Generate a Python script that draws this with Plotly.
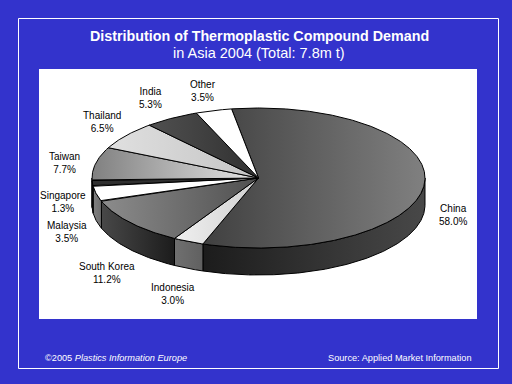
import math
import plotly.graph_objects as go

# ---- data (clockwise from the start of the China slice)
categories = ["China", "Indonesia", "South Korea", "Malaysia", "Singapore",
              "Taiwan", "Thailand", "India", "Other"]
shares = [58.0, 3.0, 11.2, 3.5, 1.3, 7.7, 6.5, 5.3, 3.5]
title_main = "Distribution of Thermoplastic Compound Demand"
title_sub = "in Asia 2004 (Total: 7.8m t)"
footer_left = "©2005 <i>Plastics Information Europe</i>"
footer_right = "Source: Applied Market Information"

# ---- styles / geometry
BLUE = "#3333cc"
CX, CY, RX, RY, DEPTH = 258.5, 178.0, 166.5, 70.0, 27.0
START = -9.3
top_colors = {
    "China": ("#404040", "#808080"), "Indonesia": ("#f0f0f0", "#d0d0d0"),
    "South Korea": ("#8c8c8c", "#505050"), "Malaysia": ("#ffffff", "#ffffff"),
    "Singapore": ("#303030", "#303030"), "Taiwan": ("#808080", "#e6e6e6"),
    "Thailand": ("#e0e0e0", "#c4c4c4"), "India": ("#505050", "#303030"),
    "Other": ("#ffffff", "#ffffff"),
}
side_colors = {
    "China": ("#1c1c1c", "#484848"), "Indonesia": ("#707070", "#606060"),
    "South Korea": ("#484848", "#1c1c1c"), "Malaysia": ("#808080", "#707070"),
    "Singapore": ("#303030", "#303030"), "Taiwan": ("#808080", "#808080"),
}
label_pos = {
    "China": (453, 215), "Indonesia": (173, 294), "South Korea": (107, 273),
    "Malaysia": (67, 232), "Singapore": (63, 202), "Taiwan": (64, 163),
    "Thailand": (102, 122), "India": (150, 98), "Other": (203, 91),
}


def pt(a, dy=0.0):
    r = math.radians(a)
    return CX + RX * math.sin(r), CY - RY * math.cos(r) + dy


fig = go.Figure()


def poly(xs, ys, cols):
    fig.add_trace(go.Scatter(
        x=xs, y=ys, mode="lines", fill="toself",
        line=dict(color="black", width=1),
        fillgradient=dict(type="horizontal",
                          colorscale=[[0, cols[0]], [1, cols[1]]]),
        hoverinfo="skip", showlegend=False))


# slice angle ranges derived from the shares
spans = {}
a = START
for c, s in zip(categories, shares):
    spans[c] = (a, a + s * 3.6)
    a += s * 3.6

# side walls
for c in categories:
    a0, a1 = spans[c]
    lo, hi = max(a0, 90), min(a1, 270)
    if hi <= lo:
        continue
    n = max(2, int(hi - lo) * 2)
    angs = [lo + (hi - lo) * i / n for i in range(n + 1)]
    top = [pt(t) for t in angs]
    bot = [pt(t, DEPTH) for t in reversed(angs)]
    pts = top + bot + [top[0]]
    poly([p[0] for p in pts], [p[1] for p in pts], side_colors[c])

# top faces
for c in categories:
    a0, a1 = spans[c]
    n = max(2, int(a1 - a0) * 2)
    pts = [(CX, CY)] + [pt(a0 + (a1 - a0) * i / n) for i in range(n + 1)] + [(CX, CY)]
    poly([p[0] for p in pts], [p[1] for p in pts], top_colors[c])

FONT = "Liberation Sans, Arial, sans-serif"
ann = []
for c, s in zip(categories, shares):
    x, y = label_pos[c]
    ann.append(dict(x=x, y=y, text=f"{c}<br>{s:.1f}%", showarrow=False,
                    xref="x", yref="y", align="center",
                    font=dict(family=FONT, size=10, color="black")))
ann += [
    dict(x=259, y=36, text=f"<b>{title_main}</b>", showarrow=False, xref="x", yref="y",
         font=dict(family=FONT, size=14.3, color="white")),
    dict(x=259, y=53, text=title_sub, showarrow=False, xref="x", yref="y",
         font=dict(family=FONT, size=14.5, color="white")),
    dict(x=42.5, y=358, text=footer_left, showarrow=False, xref="x", yref="y", xanchor="left",
         font=dict(family=FONT, size=9.2, color="white")),
    dict(x=474, y=358, text=footer_right, showarrow=False, xref="x", yref="y", xanchor="right",
         font=dict(family=FONT, size=9.2, color="white")),
]

shapes = [
    dict(type="rect", x0=18.5, y0=18.5, x1=498.5, y1=368.5, xref="x", yref="y",
         line=dict(color="white", width=1), fillcolor="rgba(0,0,0,0)", layer="below"),
    dict(type="rect", x0=39, y0=69, x1=477, y1=319, xref="x", yref="y",
         line=dict(width=0), fillcolor="white", layer="below"),
]

fig.update_layout(
    width=512, height=384, margin=dict(l=0, r=0, t=0, b=0),
    paper_bgcolor=BLUE, plot_bgcolor=BLUE, showlegend=False,
    xaxis=dict(range=[0, 512], visible=False, fixedrange=True),
    yaxis=dict(range=[384, 0], visible=False, fixedrange=True),
    annotations=ann, shapes=shapes,
)
fig.write_html("out.html", config={"displayModeBar": False},
               post_script="document.body.style.margin='0';document.body.style.overflow='hidden';document.documentElement.style.background='#3333cc';")
